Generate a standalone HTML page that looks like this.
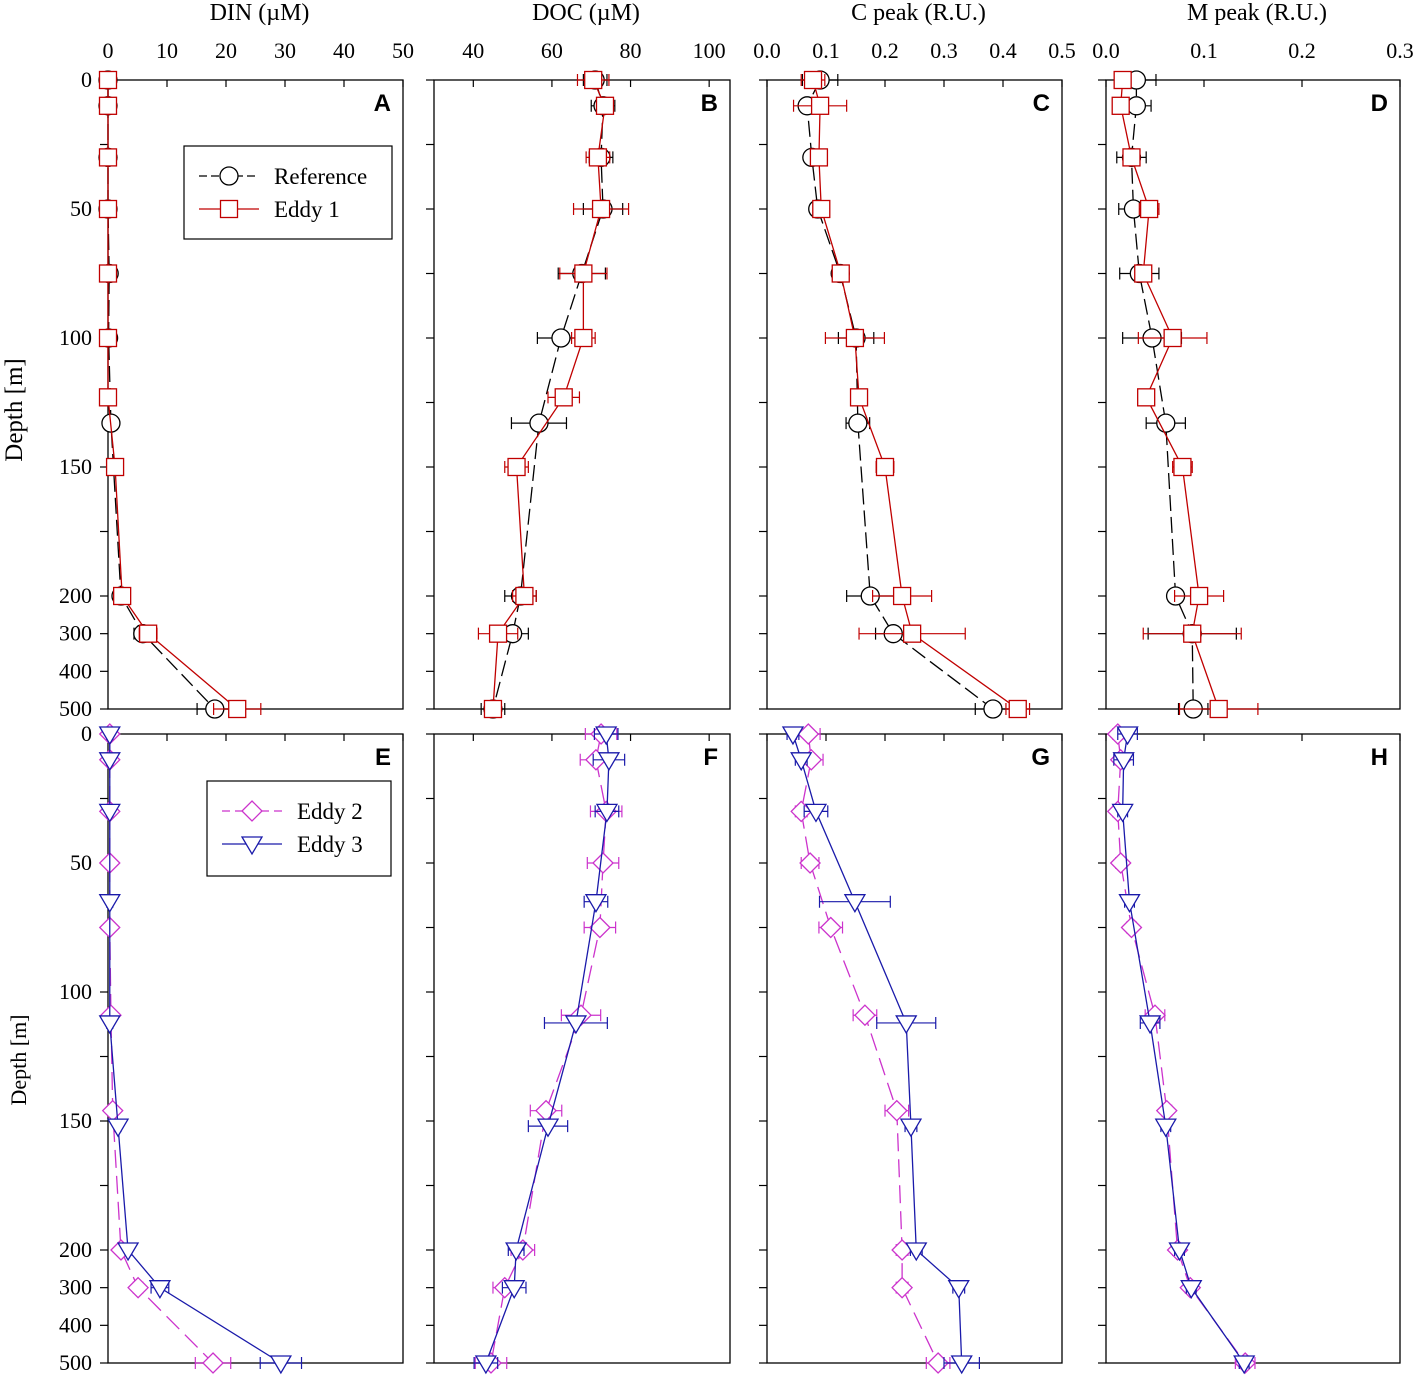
<!DOCTYPE html>
<html><head><meta charset="utf-8">
<style>
html,body{margin:0;padding:0;background:#fff;}
svg text{font-family:"Liberation Serif",serif;}
</style></head>
<body>
<svg id="chart" width="1417" height="1379" xmlns="http://www.w3.org/2000/svg"></svg>
<script>
// ---------- data ----------
const depthsRef = [0,10,30,50,75,100,133,200,300,500];
const depthsE1  = [0,10,30,50,75,100,123,150,200,300,500];
const depthsE2  = [0,10,30,50,75,109,146,200,300,500];
const depthsE3  = [0,10,30,65,112,152,200,300,500];

const dinRef = [0,0,0,0,0.2,0.1,0.5,2.2,5.9,18.1];
const dinE1  = [0,0,0,0,0,0,0,1.2,2.4,6.8,21.9];
const dinE2  = [0.3,0.3,0.3,0.3,0.3,0.5,0.8,2.2,5.1,17.8];
const dinE3  = [0.3,0.3,0.3,0.3,0.3,1.7,3.4,8.8,29.3];
const dinRefErr = [0.5,0.5,0.5,0.5,0.5,0.5,0.5,0.8,1.5,3];
const dinE1Err  = [0.5,0.5,0.5,0.5,0.5,0.5,0.5,0.5,0.8,1.5,4];
const dinE2Err  = [0.5,0.5,0.5,0.5,0.5,0.5,0.5,0.5,0.8,3];
const dinE3Err  = [0.5,0.5,0.5,0.5,0.5,0.5,0.5,1.5,3.5];

const docRef = [71,73,72.5,73,67.6,62.3,56.7,52,50,45];
const docE1  = [70.5,73.5,71.7,72.5,68,68,63,51,53,46.3,45];
const docE2  = [72.5,71.2,73.8,73,72.2,67.4,58.5,52.6,48,44.5];
const docE3  = [73.8,74.5,74,71.2,66.1,59,50.9,50.4,43.2];
const docRefErr = [3,3,3,5,6,6,7,4,4,3];
const docE1Err  = [4,2,3,7,6,3,4,3,3,5,2];
const docE2Err  = [4,4,4,4,4,5,4,3,3,4];
const docE3Err  = [3,4,3,3,8,5,2,3,3,3];

const cpRef = [0.09,0.068,0.076,0.086,0.124,0.151,0.154,0.175,0.214,0.383];
const cpE1  = [0.078,0.09,0.088,0.092,0.125,0.149,0.156,0.2,0.229,0.246,0.425];
const cpE2  = [0.07,0.075,0.058,0.073,0.108,0.166,0.22,0.229,0.229,0.29];
const cpE3  = [0.044,0.058,0.083,0.149,0.236,0.244,0.253,0.325,0.33];
const cpRefErr = [0.03,0.01,0.01,0.01,0.01,0.03,0.02,0.04,0.03,0.03];
const cpE1Err  = [0.02,0.045,0.01,0.01,0.01,0.05,0.01,0.015,0.05,0.09,0.02];
const cpE2Err  = [0.02,0.02,0.01,0.015,0.02,0.02,0.02,0.01,0.01,0.02];
const cpE3Err  = [0.01,0.01,0.02,0.06,0.05,0.01,0.01,0.01,0.03];

const mpRef = [0.031,0.031,0.026,0.028,0.034,0.047,0.061,0.071,0.088,0.089];
const mpE1  = [0.017,0.015,0.026,0.044,0.038,0.068,0.041,0.078,0.095,0.088,0.115];
const mpE2  = [0.012,0.015,0.012,0.015,0.026,0.05,0.062,0.073,0.086,0.142];
const mpE3  = [0.022,0.018,0.017,0.024,0.045,0.061,0.075,0.087,0.141];
const mpRefErr = [0.02,0.015,0.015,0.015,0.02,0.03,0.02,0.005,0.045,0.015];
const mpE1Err  = [0.005,0.005,0.005,0.01,0.005,0.035,0.005,0.01,0.025,0.05,0.04];
const mpE2Err  = [0.005,0.005,0.005,0.005,0.005,0.01,0.005,0.005,0.005,0.01];
const mpE3Err  = [0.01,0.01,0.005,0.005,0.01,0.005,0.005,0.005,0.005];

const xTickDIN = [0,10,20,30,40,50];
const xTickDOC = [40,60,80,100];
const xTickCP  = ["0.0","0.1","0.2","0.3","0.4","0.5"];
const xTickMP  = ["0.0","0.1","0.2","0.3"];
const yTickLabels = [0,50,100,150,200,300,400,500];
const yMinorTicks = [0,25,50,75,100,125,150,175,200,300,400,500];

// ---------- helpers ----------
const svg = document.getElementById('chart');
const NS = 'http://www.w3.org/2000/svg';
function mk(tag, attrs, parent){
  const e = document.createElementNS(NS, tag);
  for (const k in attrs) e.setAttribute(k, attrs[k]);
  (parent||svg).appendChild(e);
  return e;
}
function yScale(top, bottom){
  const lin = (bottom - top) * (516/629); // 0..200 region
  const per = lin/200;
  const rest = (bottom - top) - lin;
  return d => d <= 200 ? top + d*per : top + lin + (d-200)/300*rest;
}
const cols = [
  {l:108,r:403,min:0,max:50,ticks:xTickDIN,title:'DIN (µM)'},
  {l:434,r:730,min:30,max:105.3,ticks:xTickDOC,title:'DOC (µM)'},
  {l:767,r:1062,min:0,max:0.5,ticks:xTickCP,title:'C peak (R.U.)'},
  {l:1106,r:1400,min:0,max:0.3,ticks:xTickMP,title:'M peak (R.U.)'}
];
const rows = [{t:80,b:709},{t:734,b:1363}];
const letters = [['A','B','C','D'],['E','F','G','H']];
const data = [
  [[[depthsRef,dinRef,dinRefErr,'ref'],[depthsE1,dinE1,dinE1Err,'e1']],
   [[depthsRef,docRef,docRefErr,'ref'],[depthsE1,docE1,docE1Err,'e1']],
   [[depthsRef,cpRef,cpRefErr,'ref'],[depthsE1,cpE1,cpE1Err,'e1']],
   [[depthsRef,mpRef,mpRefErr,'ref'],[depthsE1,mpE1,mpE1Err,'e1']]],
  [[[depthsE2,dinE2,dinE2Err,'e2'],[depthsE3,dinE3,dinE3Err,'e3']],
   [[depthsE2,docE2,docE2Err,'e2'],[depthsE3,docE3,docE3Err,'e3']],
   [[depthsE2,cpE2,cpE2Err,'e2'],[depthsE3,cpE3,cpE3Err,'e3']],
   [[depthsE2,mpE2,mpE2Err,'e2'],[depthsE3,mpE3,mpE3Err,'e3']]]
];
const styles = {
  ref:{c:'#000',dash:'16,6'},
  e1:{c:'#c00000',dash:''},
  e2:{c:'#cc33cc',dash:'18,8'},
  e3:{c:'#1a1aaa',dash:''}
};
function marker(g, kind, x, y){
  const s = styles[kind];
  let m;
  if (kind==='ref') m = mk('circle',{cx:x,cy:y,r:9,fill:'#fff',stroke:s.c,'stroke-width':1.3},g);
  else if (kind==='e1') m = mk('rect',{x:x-8.5,y:y-8.5,width:17,height:17,fill:'#fff',stroke:s.c,'stroke-width':1.3},g);
  else if (kind==='e2') m = mk('polygon',{points:`${x},${y-10} ${x+10},${y} ${x},${y+10} ${x-10},${y}`,fill:'#fff',stroke:s.c,'stroke-width':1.3},g);
  else m = mk('polygon',{points:`${x-10},${y-7} ${x+10},${y-7} ${x},${y+10}`,fill:'#fff',stroke:s.c,'stroke-width':1.3},g);
  return m;
}
const seriesNames = {ref:'reference',e1:'eddy-1',e2:'eddy-2',e3:'eddy-3'};

rows.forEach((row, ri) => {
  const ys = yScale(row.t, row.b);
  cols.forEach((col, ci) => {
    const xs = v => col.l + (v - col.min) / (col.max - col.min) * (col.r - col.l);
    const g = mk('g',{});
    
    
    const box = mk('rect',{x:col.l,y:row.t,width:col.r-col.l,height:row.b-row.t,fill:'none',stroke:'#000','stroke-width':1.3},g);
    
    
    // y ticks
    yMinorTicks.forEach(d => {
      const t = mk('line',{x1:col.l-8,x2:col.l,y1:ys(d),y2:ys(d),stroke:'#000','stroke-width':1.2},g);
      
      
    });
    if (ci===0){
      yTickLabels.forEach(d => {
        const t = mk('text',{x:col.l-16,y:ys(d)+7,'text-anchor':'end','font-size':22},g);
        t.textContent = d;
        
        
      });
      const yt = mk('text',{x:0,y:0,'text-anchor':'middle','font-size':ri===0?25:22,transform:`translate(${ri===0?22:26},${ri===0?410:1060}) rotate(-90)`},g);
      yt.textContent = 'Depth [m]';
      
      
    }
    // x ticks
    col.ticks.forEach(tv => {
      const v = parseFloat(tv);
      const x = xs(v);
      const t = mk('line',{x1:x,x2:x,y1:row.t,y2:row.t+7,stroke:'#000','stroke-width':1.2},g);
      
      
      if (ri===0){
        const tl = mk('text',{x:x,y:58,'text-anchor':'middle','font-size':22},g);
        tl.textContent = tv;
        
        
      }
    });
    if (ri===0){
      const tt = mk('text',{x:(col.l+col.r)/2+4,y:20,'text-anchor':'middle','font-size':24},g);
      tt.textContent = col.title;
      
      
    }
    const lab = mk('text',{x:col.r-12,y:row.t+31,'text-anchor':'end','font-size':24,'font-weight':'bold',style:'font-family:"Liberation Sans",sans-serif'},g);
    lab.textContent = letters[ri][ci];
    
    
    // series
    data[ri][ci].forEach(([ds, vals, errs, kind]) => {
      const s = styles[kind];
      const sg = mk('g',{},g);
      
      
      const pts = vals.map((v,i) => xs(v)+','+ys(ds[i])).join(' ');
      const ln = mk('polyline',{points:pts,fill:'none',stroke:s.c,'stroke-width':1.3,'stroke-dasharray':s.dash},sg);
      
      
      vals.forEach((v,i) => {
        const y = ys(ds[i]), x1 = xs(v - errs[i]), x2 = xs(v + errs[i]);
        const eb = mk('path',{d:`M${x1},${y}H${x2}M${x1},${y-6}V${y+6}M${x2},${y-6}V${y+6}`,stroke:s.c,'stroke-width':1.2,fill:'none'},sg);
        
        
      });
      vals.forEach((v,i) => {
        const m = marker(sg, kind, xs(v), ys(ds[i]));
        
        
      });
    });
  });
});

// legends
function legend(x, y, w, h, items){
  const g = mk('g',{});
  
  
  mk('rect',{x:x,y:y,width:w,height:h,fill:'#fff',stroke:'#000','stroke-width':1.2},g);
  items.forEach(([kind,label],i) => {
    const cy = y + 30 + i*33;
    const s = styles[kind];
    const e = mk('g',{},g);
    
    
    mk('line',{x1:x+15,x2:x+75,y1:cy,y2:cy,stroke:s.c,'stroke-width':1.3,'stroke-dasharray':kind==='ref'?'8,4':(kind==='e2'?'8,5':'')},e);
    marker(e, kind, x+45, cy);
    const t = mk('text',{x:x+90,y:cy+8,'font-size':23},e);
    t.textContent = label;
  });
}
legend(184,146,208,93,[['ref','Reference'],['e1','Eddy 1']]);
legend(207,781,184,95,[['e2','Eddy 2'],['e3','Eddy 3']]);
</script>
</body></html>
